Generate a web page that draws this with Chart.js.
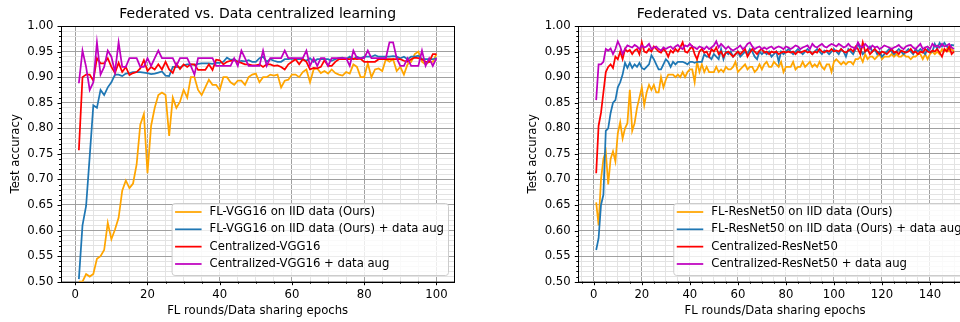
<!DOCTYPE html>
<html>
<head>
<meta charset="utf-8">
<script src="https://cdn.jsdelivr.net/npm/chart.js@4.4.1/dist/chart.umd.min.js"></script>
<style>
  html, body { margin: 0; padding: 0; background: #fff; overflow: hidden; width: 960px; height: 322px; }
  #wrap { position: relative; width: 960px; height: 322px; overflow: hidden; }
  #c1 { position: absolute; left: 0; top: 0; }
  #c2 { position: absolute; left: 480px; top: 0; }
</style>
</head>
<body>
<div id="wrap">
  <canvas id="c1" width="480" height="322"></canvas>
  <canvas id="c2" width="520" height="322"></canvas>
</div>
<script>
// --- Textos y datos -----------------------------------------------------------
const titleText = 'Federated vs. Data centralized learning';
const xTitle = 'FL rounds/Data sharing epochs';
const yTitle = 'Test accuracy';

const vggLabels = ['FL-VGG16 on IID data (Ours)', 'FL-VGG16 on IID data (Ours) + data aug', 'Centralized-VGG16', 'Centralized-VGG16 + data aug'];
const resLabels = ['FL-ResNet50 on IID data (Ours)', 'FL-ResNet50 on IID data (Ours) + data aug', 'Centralized-ResNet50', 'Centralized-ResNet50 + data aug'];
const seriesColors = ['#ffa500', '#1f77b4', '#ff0000', '#bf00bf'];

// VGG16, 100 rondas
const vggFl = [
  0.500,0.500,0.515,0.510,0.515,0.545,0.550,0.562,0.615,0.583,
  0.602,0.625,0.678,0.698,0.683,0.692,0.730,0.807,0.828,0.712,
  0.805,0.840,0.865,0.870,0.865,0.785,0.860,0.840,0.852,0.875,
  0.860,0.900,0.900,0.875,0.865,0.880,0.895,0.885,0.885,0.875,
  0.900,0.900,0.890,0.885,0.893,0.893,0.885,0.900,0.905,0.907,
  0.890,0.900,0.900,0.905,0.903,0.905,0.880,0.893,0.895,0.905,
  0.905,0.900,0.910,0.915,0.890,0.915,0.917,0.908,0.912,0.907,
  0.915,0.908,0.905,0.903,0.910,0.907,0.925,0.920,0.900,0.900,
  0.927,0.900,0.915,0.917,0.912,0.935,0.930,0.935,0.912,0.920,
  0.905,0.925,0.930,0.945,0.950,0.930,0.925,0.930,0.930,0.945
];
const vggFlAug = [
  0.505,0.610,0.648,0.745,0.845,0.840,0.875,0.865,0.880,0.890,
  0.905,0.905,0.902,0.907,0.908,0.910,0.910,0.910,0.909,0.908,
  0.906,0.907,0.909,0.911,0.903,0.902,0.920,0.920,0.919,0.923,
  0.925,0.925,0.924,0.926,0.927,0.927,0.927,0.926,0.928,0.928,
  0.930,0.938,0.934,0.935,0.930,0.932,0.931,0.933,0.930,0.930,
  0.937,0.940,0.930,0.935,0.932,0.930,0.930,0.935,0.935,0.936,
  0.935,0.935,0.935,0.932,0.937,0.930,0.935,0.935,0.935,0.935,
  0.932,0.935,0.937,0.938,0.935,0.940,0.935,0.940,0.937,0.940,
  0.940,0.940,0.943,0.940,0.940,0.940,0.940,0.941,0.940,0.937,
  0.940,0.935,0.940,0.940,0.942,0.935,0.935,0.935,0.935,0.937
];
const vggCen = [
  0.757,0.900,0.905,0.905,0.893,0.937,0.927,0.927,0.937,0.920,
  0.908,0.928,0.910,0.920,0.904,0.908,0.910,0.917,0.933,0.912,
  0.920,0.915,0.925,0.915,0.930,0.915,0.908,0.926,0.916,0.925,
  0.920,0.925,0.925,0.914,0.914,0.914,0.925,0.914,0.934,0.933,
  0.925,0.930,0.932,0.933,0.930,0.928,0.925,0.925,0.923,0.923,
  0.925,0.920,0.925,0.925,0.922,0.923,0.920,0.915,0.925,0.930,
  0.935,0.925,0.935,0.930,0.915,0.918,0.917,0.920,0.933,0.922,
  0.922,0.930,0.935,0.935,0.935,0.935,0.936,0.935,0.936,0.930,
  0.930,0.930,0.930,0.935,0.935,0.935,0.935,0.935,0.935,0.935,
  0.932,0.930,0.935,0.938,0.937,0.935,0.930,0.930,0.945,0.945
];
const vggCenAug = [
  0.888,0.952,0.920,0.875,0.890,0.968,0.905,0.920,0.952,0.940,
  0.910,0.968,0.920,0.920,0.937,0.937,0.937,0.920,0.920,0.937,
  0.922,0.937,0.952,0.937,0.937,0.937,0.937,0.922,0.937,0.937,
  0.937,0.922,0.905,0.937,0.937,0.937,0.937,0.937,0.922,0.922,
  0.922,0.922,0.922,0.937,0.922,0.952,0.937,0.922,0.922,0.922,
  0.922,0.952,0.922,0.937,0.937,0.937,0.937,0.952,0.937,0.937,
  0.937,0.937,0.937,0.952,0.922,0.937,0.922,0.937,0.937,0.922,
  0.937,0.937,0.937,0.937,0.937,0.922,0.952,0.937,0.937,0.937,
  0.952,0.937,0.937,0.937,0.937,0.937,0.968,0.968,0.937,0.922,
  0.922,0.937,0.922,0.922,0.922,0.952,0.922,0.937,0.922,0.937
];

// ResNet50, 150 rondas
const resFl = [
  0.655,0.610,0.700,0.740,0.755,0.690,0.740,0.755,0.735,0.790,
  0.812,0.780,0.800,0.810,0.875,0.795,0.810,0.840,0.860,0.880,
  0.845,0.870,0.885,0.875,0.885,0.870,0.870,0.900,0.880,0.895,
  0.905,0.905,0.905,0.900,0.905,0.900,0.910,0.900,0.910,0.915,
  0.915,0.890,0.930,0.910,0.925,0.910,0.920,0.910,0.910,0.910,
  0.920,0.910,0.915,0.910,0.920,0.915,0.915,0.920,0.930,0.910,
  0.915,0.920,0.925,0.915,0.920,0.920,0.910,0.915,0.925,0.915,
  0.925,0.930,0.920,0.920,0.930,0.925,0.920,0.930,0.910,0.920,
  0.920,0.920,0.930,0.915,0.920,0.920,0.930,0.920,0.925,0.930,
  0.920,0.925,0.920,0.930,0.920,0.915,0.925,0.925,0.910,0.930,
  0.935,0.930,0.925,0.930,0.925,0.930,0.930,0.925,0.935,0.935,
  0.940,0.930,0.945,0.935,0.940,0.940,0.935,0.940,0.945,0.935,
  0.940,0.940,0.940,0.945,0.940,0.945,0.940,0.940,0.945,0.940,
  0.940,0.935,0.940,0.940,0.945,0.945,0.935,0.945,0.935,0.945,
  0.950,0.945,0.950,0.945,0.955,0.950,0.955,0.950,0.955,0.950
];
const resFlAug = [
  0.562,0.585,0.650,0.670,0.795,0.800,0.830,0.850,0.855,0.880,
  0.890,0.905,0.928,0.918,0.928,0.918,0.925,0.920,0.928,0.918,
  0.915,0.920,0.925,0.943,0.935,0.925,0.915,0.915,0.925,0.935,
  0.930,0.920,0.930,0.925,0.930,0.930,0.930,0.928,0.925,0.930,
  0.930,0.928,0.930,0.930,0.930,0.945,0.940,0.940,0.935,0.945,
  0.940,0.935,0.955,0.935,0.950,0.945,0.950,0.940,0.945,0.950,
  0.940,0.945,0.950,0.945,0.955,0.950,0.940,0.935,0.950,0.945,
  0.950,0.945,0.950,0.940,0.945,0.950,0.930,0.950,0.945,0.950,
  0.955,0.950,0.945,0.950,0.955,0.950,0.945,0.950,0.955,0.950,
  0.945,0.950,0.955,0.950,0.945,0.952,0.950,0.945,0.950,0.955,
  0.950,0.945,0.955,0.950,0.940,0.955,0.950,0.945,0.955,0.965,
  0.955,0.945,0.950,0.955,0.960,0.950,0.955,0.945,0.950,0.940,
  0.945,0.950,0.955,0.950,0.945,0.950,0.955,0.950,0.945,0.950,
  0.955,0.950,0.945,0.955,0.950,0.955,0.950,0.945,0.955,0.950,
  0.950,0.965,0.955,0.967,0.960,0.967,0.960,0.955,0.963,0.962
];
const resCen = [
  0.712,0.805,0.830,0.870,0.910,0.920,0.925,0.918,0.940,0.935,
  0.950,0.935,0.955,0.950,0.953,0.945,0.952,0.955,0.945,0.968,
  0.950,0.948,0.955,0.950,0.960,0.955,0.950,0.948,0.955,0.950,
  0.940,0.952,0.948,0.955,0.950,0.958,0.968,0.950,0.948,0.955,
  0.960,0.945,0.935,0.950,0.955,0.948,0.950,0.940,0.955,0.950,
  0.958,0.945,0.950,0.940,0.948,0.950,0.945,0.940,0.945,0.950,
  0.945,0.950,0.955,0.940,0.948,0.955,0.950,0.945,0.952,0.955,
  0.948,0.950,0.945,0.950,0.948,0.950,0.945,0.948,0.950,0.948,
  0.950,0.948,0.950,0.945,0.950,0.948,0.950,0.952,0.948,0.950,
  0.945,0.950,0.948,0.955,0.950,0.948,0.952,0.950,0.955,0.950,
  0.952,0.950,0.955,0.950,0.948,0.952,0.955,0.950,0.960,0.955,
  0.945,0.968,0.950,0.955,0.945,0.950,0.955,0.950,0.945,0.950,
  0.948,0.945,0.950,0.955,0.948,0.950,0.945,0.952,0.950,0.948,
  0.950,0.955,0.948,0.950,0.945,0.950,0.948,0.955,0.950,0.948,
  0.952,0.950,0.955,0.948,0.940,0.955,0.950,0.960,0.945,0.950
];
const resCenAug = [
  0.855,0.925,0.925,0.930,0.955,0.952,0.956,0.945,0.955,0.970,
  0.960,0.945,0.955,0.962,0.960,0.958,0.963,0.960,0.955,0.962,
  0.958,0.960,0.965,0.955,0.958,0.960,0.955,0.952,0.958,0.955,
  0.958,0.960,0.955,0.960,0.963,0.958,0.955,0.962,0.960,0.965,
  0.960,0.958,0.955,0.960,0.958,0.955,0.960,0.955,0.958,0.962,
  0.970,0.958,0.965,0.960,0.955,0.960,0.955,0.952,0.955,0.958,
  0.962,0.955,0.958,0.965,0.968,0.960,0.955,0.958,0.960,0.955,
  0.958,0.955,0.958,0.960,0.955,0.958,0.960,0.958,0.955,0.960,
  0.958,0.955,0.958,0.962,0.960,0.955,0.958,0.960,0.962,0.955,
  0.965,0.960,0.958,0.962,0.965,0.960,0.958,0.962,0.965,0.963,
  0.960,0.965,0.962,0.958,0.960,0.965,0.960,0.958,0.955,0.968,
  0.960,0.958,0.965,0.960,0.955,0.962,0.958,0.960,0.955,0.958,
  0.962,0.960,0.958,0.955,0.958,0.960,0.963,0.958,0.955,0.960,
  0.962,0.963,0.958,0.955,0.960,0.965,0.955,0.958,0.960,0.955,
  0.965,0.960,0.962,0.958,0.965,0.960,0.962,0.965,0.958,0.955
];

// --- Configuración común ------------------------------------------------------
Chart.defaults.font.family = '"DejaVu Sans", sans-serif';
Chart.defaults.font.size = 11.67;
Chart.defaults.color = '#000';

const FONT = 11.67;
const GRID_MAJOR = '#a0a0a0';
const GRID_MINOR = '#e3e3e3';

function makeDatasets(labels, seriesList) {
  return seriesList.map((vals, i) => ({
    label: labels[i],
    data: vals.map((v, k) => ({ x: k + 1, y: v })),
    borderColor: seriesColors[i],
    backgroundColor: seriesColors[i],
    borderWidth: 1.75,
    pointRadius: 0,
    tension: 0,
    fill: false,
    order: 4 - i // magenta encima
  }));
}

function makeScales(xMin, xMax) {
  return {
    x: {
      type: 'linear', min: xMin, max: xMax,
      ticks: {
        stepSize: 5, includeBounds: false, autoSkip: false, maxRotation: 0, padding: 6,
        callback: v => (v % 20 === 0 ? String(v) : '')
      },
      grid: {
        drawTicks: false, lineWidth: 1,
        color: c => (c.tick && c.tick.value % 20 === 0 ? GRID_MAJOR : GRID_MINOR)
      },
      border: { display: false },
      title: { display: true, text: xTitle, padding: { top: 0, bottom: 4.5 } },
      afterFit: s => { s.height = 40.3; }
    },
    y: {
      type: 'linear', min: 0.5, max: 1.0,
      ticks: {
        stepSize: 0.01, includeBounds: false, autoSkip: false, padding: 7.7,
        callback: v => (Math.round(v * 100) % 5 === 0 ? v.toFixed(2) : '')
      },
      grid: {
        drawTicks: false, lineWidth: 1,
        color: c => (c.tick && Math.round(c.tick.value * 100) % 5 === 0 ? GRID_MAJOR : GRID_MINOR)
      },
      border: { display: false },
      title: { display: true, text: yTitle, padding: { top: 9, bottom: 0 } },
      afterFit: s => { s.width = 61; }
    }
  };
}

// marco, ticks menores/mayores, título y leyenda dentro del área
const decor = {
  id: 'decor',
  afterDraw(chart) {
    const { ctx, chartArea: a, scales } = chart;
    ctx.save();
    ctx.strokeStyle = '#000';
    ctx.lineWidth = 1;
    scales.x.ticks.forEach(t => {
      const px = Math.round(scales.x.getPixelForValue(t.value)) + 0.5;
      const len = t.value % 20 === 0 ? 3.5 : 2;
      ctx.beginPath(); ctx.moveTo(px, a.bottom); ctx.lineTo(px, a.bottom + len); ctx.stroke();
    });
    scales.y.ticks.forEach(t => {
      const py = Math.round(scales.y.getPixelForValue(t.value)) + 0.5;
      const len = Math.round(t.value * 100) % 5 === 0 ? 3.5 : 2;
      ctx.beginPath(); ctx.moveTo(a.left, py); ctx.lineTo(a.left - len, py); ctx.stroke();
    });
    ctx.strokeRect(Math.round(a.left) + 0.5, Math.round(a.top) + 0.5,
      Math.round(a.right) - Math.round(a.left), Math.round(a.bottom) - Math.round(a.top));

    // título
    ctx.fillStyle = '#000';
    ctx.font = '14px "DejaVu Sans"';
    ctx.textAlign = 'center';
    ctx.textBaseline = 'middle';
    ctx.fillText(titleText, (a.left + a.right) / 2, 14);

    // leyenda
    const ds = chart.data.datasets;
    ctx.font = FONT + 'px "DejaVu Sans"';
    const w = Math.max(...ds.map(d => ctx.measureText(d.label).width));
    const boxW = 38 + w + 4, boxH = 72;
    const bx = a.right - 6.3 - boxW, by = a.bottom - 6.7 - boxH;
    ctx.beginPath();
    ctx.roundRect(bx + 0.5, by + 0.5, boxW, boxH, 3);
    ctx.globalAlpha = 0.8;
    ctx.fillStyle = '#fff';
    ctx.fill();
    ctx.globalAlpha = 1;
    ctx.strokeStyle = '#cccccc';
    ctx.stroke();
    ds.forEach((d, i) => {
      const ry = by + 9 + i * 17.33;
      ctx.strokeStyle = d.borderColor;
      ctx.lineWidth = 1.75;
      ctx.beginPath(); ctx.moveTo(bx + 3.5, ry); ctx.lineTo(bx + 30, ry); ctx.stroke();
      ctx.fillStyle = '#000';
      ctx.textAlign = 'left';
      ctx.fillText(d.label, bx + 38, ry);
    });
    ctx.restore();
  }
};

function makeChart(id, labels, seriesList, xMin, xMax, padLeft, padRight) {
  return new Chart(document.getElementById(id), {
    type: 'line',
    data: { datasets: makeDatasets(labels, seriesList) },
    options: {
      responsive: false,
      animation: false,
      layout: { padding: { left: padLeft, right: padRight, top: 26, bottom: 0 } },
      plugins: { legend: { display: false }, title: { display: false }, tooltip: { enabled: false } },
      scales: makeScales(xMin, xMax)
    },
    plugins: [decor]
  });
}

makeChart('c1', vggLabels, [vggFl, vggFlAug, vggCen, vggCenAug], -3.95, 104.95, 0, 25.7);
makeChart('c2', resLabels, [resFl, resFlAug, resCen, resCenAug], -6.45, 157.45, 37.3, 28.1);
</script>
</body>
</html>
